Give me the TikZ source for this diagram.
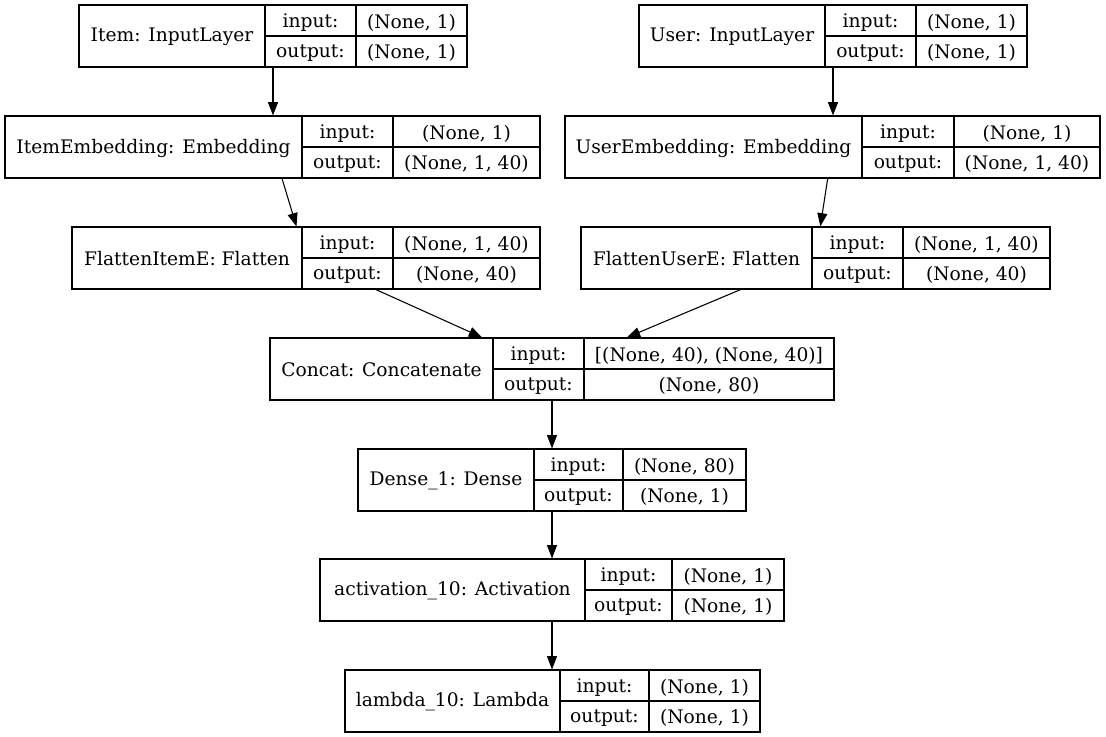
\documentclass[tikz,border=0pt]{standalone}
\usepackage{fontspec}
\setmainfont{DejaVu Serif}
\usepackage{tikz}
\usetikzlibrary{arrows.meta,fit}
\tikzset{
  layerbox/.style={draw,line width=0.8pt,inner sep=0pt},
  cellline/.style={line width=0.8pt},
  flow/.style={-{Triangle[length=10pt,width=7.5pt]},line width=0.8pt},
  celltext/.style={font=\fontsize{14}{16}\selectfont,inner sep=0pt}
}
% name, left x, label x, value x, right x, top y, title, input, output
\newcommand{\layerbox}[9]{
  \node[layerbox,fit={(#2,#6) (#5,#6+62)}] (#1) {};
  \draw[cellline] (#3,#6) -- (#3,#6+62);
  \draw[cellline] (#4,#6) -- (#4,#6+62);
  \draw[cellline] (#3,#6+31) -- (#5,#6+31);
  \node[celltext] (#1-title) at ({(#2+#3)/2},#6+32) {#7};
  \node[celltext] (#1-inlab) at ({(#3+#4)/2},#6+17.5) {input:};
  \node[celltext] (#1-outlab) at ({(#3+#4)/2},#6+48) {output:};
  \node[celltext] (#1-in) at ({(#4+#5)/2},#6+17.5) {#8};
  \node[celltext] (#1-out) at ({(#4+#5)/2},#6+48) {#9};
}

\begin{document}
\begin{tikzpicture}[x=0.75pt,y=-0.75pt]
  \useasboundingbox[fill=white] (0,0) rectangle (1106,737);
  \layerbox{item}{79}{265}{356}{467}{5}{Item: InputLayer}{(None, 1)}{(None, 1)}
  \layerbox{user}{639}{825}{916}{1027}{5}{User: InputLayer}{(None, 1)}{(None, 1)}
  \layerbox{itememb}{5}{302}{393}{540}{116}{ItemEmbedding: Embedding}{(None, 1)}{(None, 1, 40)}
  \layerbox{useremb}{565}{862}{954}{1100}{116}{UserEmbedding: Embedding}{(None, 1)}{(None, 1, 40)}
  \layerbox{flatitem}{72}{302}{393}{540}{227}{FlattenItemE: Flatten}{(None, 1, 40)}{(None, 40)}
  \layerbox{flatuser}{581}{812}{903}{1050}{227}{FlattenUserE: Flatten}{(None, 1, 40)}{(None, 40)}
  \layerbox{concat}{270}{493}{584}{834}{338}{Concat: Concatenate}{[(None, 40), (None, 40)]}{(None, 80)}
  \layerbox{dense}{358}{534}{623}{746}{449}{Dense\_1: Dense}{(None, 80)}{(None, 1)}
  \layerbox{activ}{320}{585}{672}{784}{559}{activation\_10: Activation}{(None, 1)}{(None, 1)}
  \layerbox{lambda}{345}{560}{649}{760}{670}{lambda\_10: Lambda}{(None, 1)}{(None, 1)}
  % connectors
  \draw[flow] (item) -- (item |- itememb.north);
  \draw[flow] (user) -- (user |- useremb.north);
  \draw[flow] (itememb) -- (flatitem);
  \draw[flow] (useremb) -- (flatuser);
  \draw[flow] (flatitem) -- (concat);
  \draw[flow] (flatuser) -- (concat);
  \draw[flow] (concat) -- (dense);
  \draw[flow] (dense) -- (activ);
  \draw[flow] (activ) -- (activ |- lambda.north);
\end{tikzpicture}
\end{document}
